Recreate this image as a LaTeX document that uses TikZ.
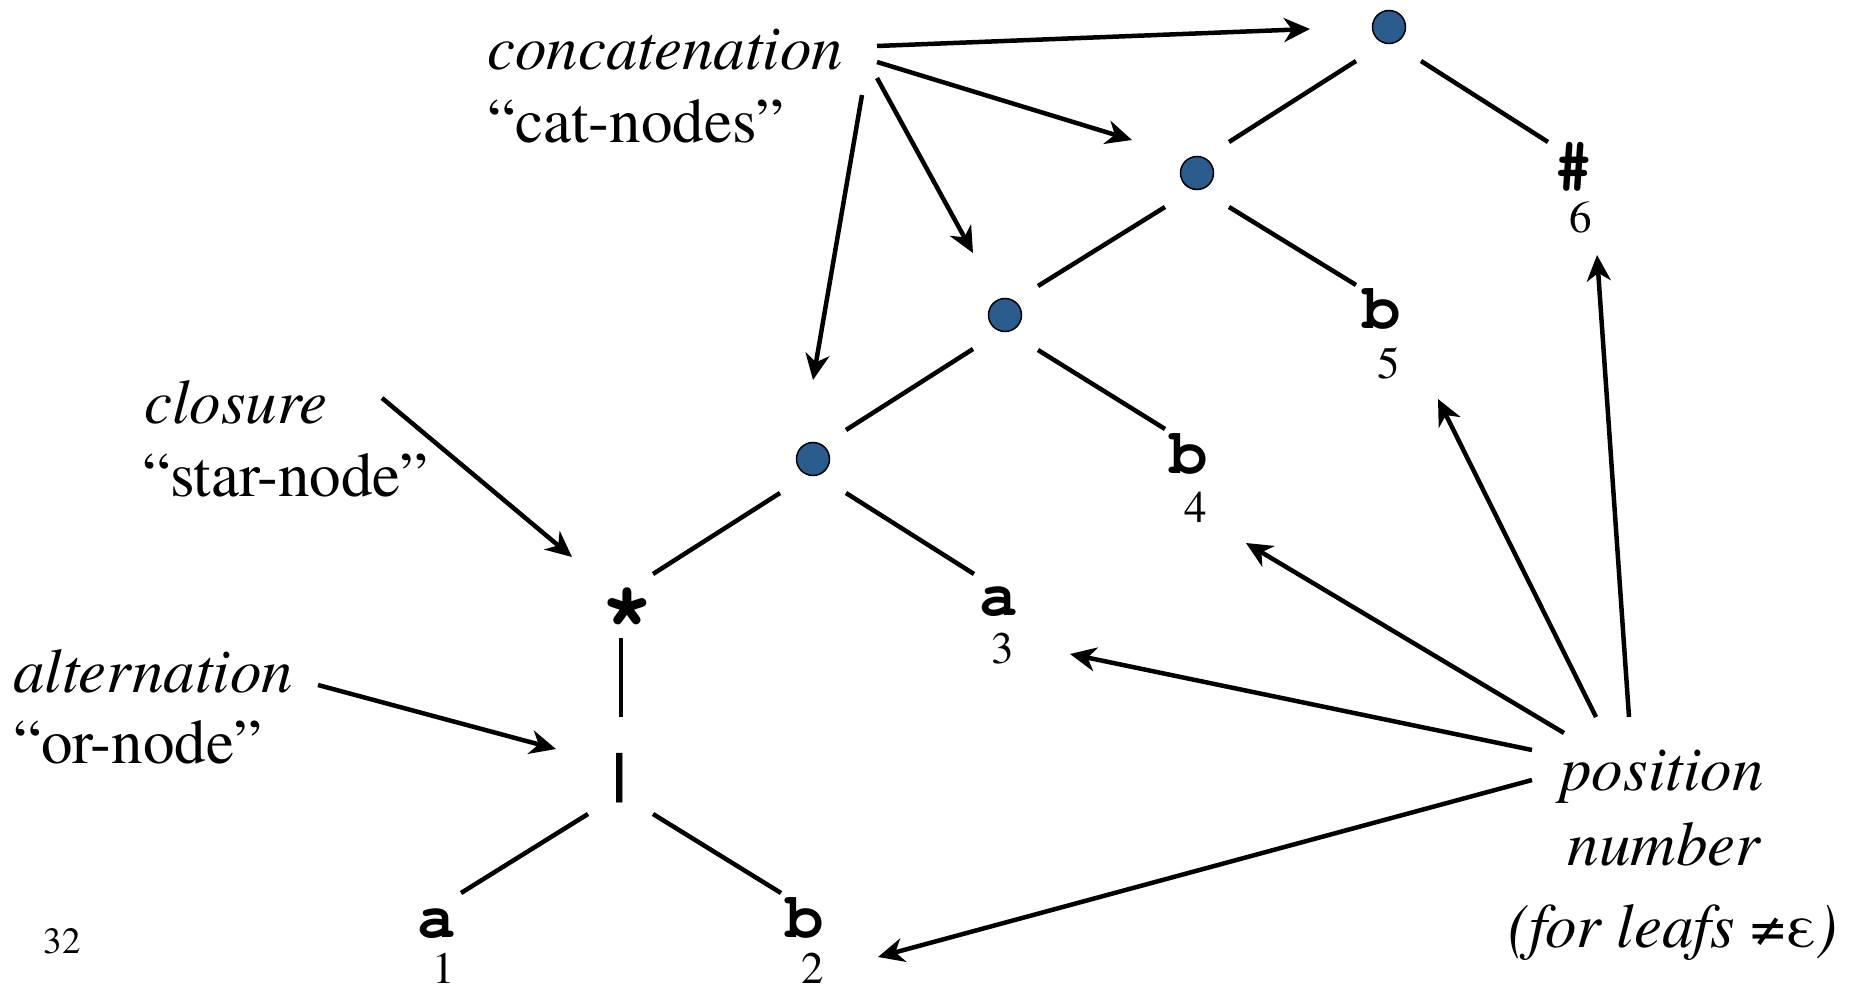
\documentclass[tikz,border=0pt]{standalone}
\usepackage{fontspec}
\setmainfont{TeX Gyre Termes}
\newfontfamily\courfont{TeX Gyre Cursor}
\usetikzlibrary{arrows.meta}
\definecolor{catblue}{RGB}{42,92,142}
\tikzset{
  lbl/.style={inner sep=0pt, anchor=base west, font=\fontsize{63}{70}\selectfont},
  poslbl/.style={inner sep=0pt, anchor=base, font=\fontsize{63}{70}\selectfont\itshape},
  leaf/.style={inner sep=0pt, anchor=base, font=\courfont\bfseries\fontsize{64}{64}\selectfont},
  num/.style={inner sep=0pt, anchor=base, font=\fontsize{45}{50}\selectfont},
  catdot/.style={circle, draw=black, line width=1.5pt, fill=catblue, minimum size=33pt, inner sep=0pt},
  edge/.style={line width=4.5pt},
  arr/.style={line width=4.5pt, -{Stealth[length=26pt, width=24pt, inset=8pt]}},
}
\begin{document}
\begin{tikzpicture}[x=1pt,y=-1pt]
\useasboundingbox (0,0) rectangle (1853,987);

% cat nodes
\node[catdot] (C1) at (1389,27) {};
\node[catdot] (C2) at (1197,173) {};
\node[catdot] (C3) at (1005,315) {};
\node[catdot] (C4) at (813,459) {};

% operator and leaf nodes
\node[leaf] (star) at (627,643) {\scalebox{1.4}{*}};
\node[leaf] (bar) at (620,793) {|};
\node[leaf] (a1) at (437,937) {a};
\node[leaf] (b2) at (805,937) {b};
\node[leaf] (a3) at (999,615) {a};
\node[leaf] (b4) at (1189,473) {b};
\node[leaf] (b5) at (1382,328) {b};
\node[leaf] (hash) at (1574,186) {\#};

% position numbers
\node[num] (n1) at (444,983) {1};
\node[num] (n2) at (813,983) {2};
\node[num] (n3) at (1003,663) {3};
\node[num] (n4) at (1196,522) {4};
\node[num] (n5) at (1389,378) {5};
\node[num] (n6) at (1581,233) {6};

% tree edges
\draw[edge] ([shift={(-33,34)}]C1.center) -- ([shift={(32,-31)}]C2.center);
\draw[edge] ([shift={(32,34)}]C1.center) -- ([shift={(-26,-44)}]hash.base);
\draw[edge] ([shift={(-32,34)}]C2.center) -- ([shift={(33,-29)}]C3.center);
\draw[edge] ([shift={(32,34)}]C2.center) -- ([shift={(-26,-43)}]b5.base);
\draw[edge] ([shift={(-32,34)}]C3.center) -- ([shift={(33,-29)}]C4.center);
\draw[edge] ([shift={(33,35)}]C3.center) -- ([shift={(-24,-44)}]b4.base);
\draw[edge] ([shift={(-33,34)}]C4.center) -- ([shift={(26,-69)}]star.base);
\draw[edge] ([shift={(33,34)}]C4.center) -- ([shift={(-25,-41)}]a3.base);
\draw[edge] ([shift={(-6,-5)}]star.base) -- ([shift={(1,-76)}]bar.base);
\draw[edge] ([shift={(-32,21)}]bar.base) -- ([shift={(24,-44)}]a1.base);
\draw[edge] ([shift={(33,21)}]bar.base) -- ([shift={(-24,-44)}]b2.base);

% annotation labels
\node[lbl] (lcat) at (487,70) {\itshape concatenation};
\node[lbl] (lcatq) at (487,143) {“cat-nodes”};
\node[lbl] (lclos) at (144,423) {\itshape closure};
\node[lbl] (lstar) at (142,496) {“star-node”};
\node[lbl] (lalt) at (13,692) {\itshape alternation};
\node[lbl] (lor) at (13,763) {“or-node”};
\node[poslbl] (lpos1) at (1662,790) {position};
\node[poslbl] (lpos2) at (1664,865) {number};
\node[poslbl] (lpos3) at (1673,947) {(for leafs {\upshape ≠ε})};
\node[inner sep=0pt, anchor=base, font=\fontsize{37}{40}\selectfont] (page) at (62,953) {32};

% annotation arrows
\draw[arr] ([shift={(390,-24)}]lcat.base west) -- ([shift={(-79,2)}]C1.center);
\draw[arr] ([shift={(390,-8)}]lcat.base west) -- ([shift={(-65,-33)}]C2.center);
\draw[arr] ([shift={(390,8)}]lcat.base west) -- ([shift={(-32,-62)}]C3.center);
\draw[arr] ([shift={(375,25)}]lcat.base west) -- ([shift={(0,-79)}]C4.center);
\draw[arr] ([shift={(238,-25)}]lclos.base west) -- ([shift={(-55,-86)}]star.base);
\draw[arr] ([shift={(305,-7)}]lalt.base west) -- ([shift={(-64,-44)}]bar.base);
\draw[arr] ([shift={(-130,-10)}]lpos1.base) -- ([shift={(65,-26)}]n2.base);
\draw[arr] ([shift={(-130,-40)}]lpos1.base) -- ([shift={(67,-9)}]n3.base);
\draw[arr] ([shift={(-98,-57)}]lpos1.base) -- ([shift={(50,21)}]n4.base);
\draw[arr] ([shift={(-66,-73)}]lpos1.base) -- ([shift={(49,21)}]n5.base);
\draw[arr] ([shift={(-33,-73)}]lpos1.base) -- ([shift={(16,22)}]n6.base);
\end{tikzpicture}
\end{document}
